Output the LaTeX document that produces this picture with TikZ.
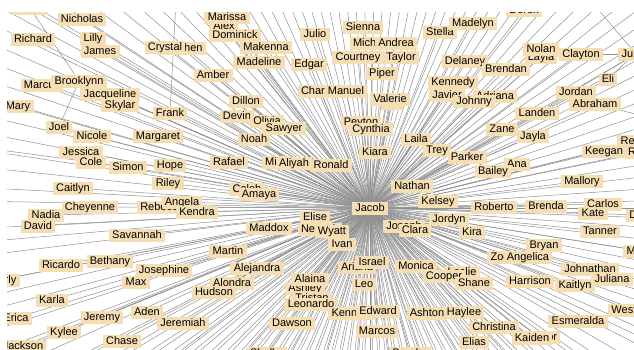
\documentclass[tikz,border=0pt]{standalone}
\usepackage{fontspec}
\setmainfont{Liberation Sans}
\pgfdeclarelayer{edges}
\pgfdeclarelayer{paper}
\pgfsetlayers{paper,edges,main}
\definecolor{lab}{RGB}{245,222,179}
\definecolor{edgec}{RGB}{145,145,145}
\tikzset{
  nm/.style={fill=lab, inner xsep=3.3pt, inner ysep=1pt, text height=8.6pt, text depth=2.4pt, font=\fontsize{11}{13}\selectfont},
  ed/.style={draw=edgec, line width=0.5pt}
}
\begin{document}
\begin{tikzpicture}[x=1pt,y=-1pt]
\begin{pgfonlayer}{paper}
\fill[white] (0,0) rectangle (634,349);
\end{pgfonlayer}
\useasboundingbox (0,0) rectangle (634,349);
\begin{scope}
\clip (7,12) rectangle (634,349);
\foreach \n/\x/\y/\t in {
 diana/30/8/Diana, nicholas/82/19/Nicholas, richard/33/39/Richard, lilly/93/38/Lilly, james/100/51/James,
 stephen/182/48/Stephen, crystal/165/47/Crystal, alex/224/26/Alex, marissa/227/17/Marissa, dominick/235/35/Dominick,
 makenna/266/47/Makenna, madeline/259/62/Madeline, amber/213/75/Amber, dillon/246/101/Dillon, frank/170/113/Frank,
 julio/315/34/Julio, edgar/309/64/Edgar, charles/320/91/Charles, manuel/346/91/Manuel, sienna/363/27/Sienna,
 michael/372/43/Michael, andrea/396/43/Andrea, courtney/358/57/Courtney, taylor/401/57/Taylor, piper/382/73/Piper,
 ian/392/103/Ian, valerie/390/99/Valerie, stella/440/32/Stella, madelyn/473/23/Madelyn, derek/524/10/Derek, layla/541/57/Layla,
 nolan/541/49/Nolan, clayton/581/54/Clayton, julian/636/54/Julian, delaney/465/61/Delaney, brendan/506/69/Brendan,
 kennedy/453/82/Kennedy, javier/447/95/Javier, adriana/495/96/Adriana, johnny/474/101/Johnny, eli/608/79/Eli,
 jordan/576/92/Jordan, abraham/595/104/Abraham, landen/537/113/Landen, joel/59/127/Joel, nicole/92/136/Nicole,
 margaret/158/136/Margaret, jessica/81/152/Jessica, cole/91/162/Cole, simon/128/167/Simon, hope/170/165/Hope,
 riley/168/183/Riley, caitlyn/73/188/Caitlyn, cheyenne/90/207/Cheyenne, rebecca/162/207/Rebecca, angela/182/202/Angela,
 kendra/197/212/Kendra, nadia/46/215/Nadia, david/38/226/David, savannah/137/235/Savannah, marcus/42/85/Marcus,
 brooklynn/79/81/Brooklynn, jacqueline/110/94/Jacqueline, skylar/120/105/Skylar, mary/18/106/Mary,
 devin/237/116/Devin, olivia/267/121/Olivia, sawyer/284/128/Sawyer, noah/254/139/Noah, rafael/229/162/Rafael,
 mia/274/162/Mia, aliyah/294/163/Aliyah, ronald/331/165/Ronald, caleb/247/189/Caleb, amaya/259/194/Amaya,
 elise/315/217/Elise, maddox/269/228/Maddox, nevaeh/320/229/Nevaeh, wyatt/332/231/Wyatt, peyton/361/122/Peyton,
 cynthia/371/129/Cynthia, kiara/375/152/Kiara, laila/416/139/Laila, trey/437/150/Trey, parker/467/157/Parker,
 nathan/412/186/Nathan, kelsey/438/201/Kelsey, jordyn/449/219/Jordyn, joseph/404/226/Joseph, clara/415/230/Clara,
 kira/472/232/Kira, zane/502/129/Zane, jayla/533/136/Jayla, reagan/640/141/Reagan, ryan/641/152/Ryan,
 keegan/604/151/Keegan, ana/517/164/Ana, bailey/493/171/Bailey, mallory/582/181/Mallory, roberto/494/207/Roberto,
 brenda/546/206/Brenda, carlos/603/204/Carlos, kate/593/213/Kate, daniel/645/215/Daniel, tanner/600/231/Tanner,
 ricardo/61/265/Ricardo, bethany/110/261/Bethany, josephine/164/270/Josephine, beverly/-2/280/Beverly, max/136/282/Max,
 karla/52/300/Karla, erica/16/318/Erica, jeremy/102/317/Jeremy, aden/147/312/Aden, kylee/64/332/Kylee,
 jackson/23/346/Jackson, chase/122/341/Chase, martin/228/251/Martin, alejandra/257/268/Alejandra, alondra/232/283/Alondra,
 hudson/214/292/Hudson, jeremiah/183/323/Jeremiah, ashley/305/288/Ashley, tristan/312/298/Tristan, alaina/310/279/Alaina,
 leonardo/311/304/Leonardo, dawson/292/323/Dawson, shelby/267/353/Shelby, ivan/342/244/Ivan, ariana/357/267/Ariana,
 israel/372/262/Israel, monica/416/266/Monica, leslie/462/272/Leslie, cooper/444/276/Cooper, shane/474/283/Shane, leo/364/284/Leo,
 kenneth/352/313/Kenneth, edward/378/311/Edward, marcos/377/331/Marcos, ashton/427/313/Ashton, haylee/464/312/Haylee,
 elias/474/342/Elias, brooke/410/353/Brooke, bryan/544/245/Bryan, zoe/500/257/Zoe, angelica/528/257/Angelica,
 mason/643/251/Mason, johnathan/590/269/Johnathan, harrison/530/281/Harrison, kaitlyn/575/285/Kaitlyn,
 juliana/612/279/Juliana, weston/630/310/Weston, esmeralda/578/321/Esmeralda, christina/494/327/Christina,
 connor/539/337/Connor, kaiden/532/338/Kaiden, jacob/370/208/Jacob}
 {\node[nm] (\n) at (\x,\y) {\t};}
\begin{pgfonlayer}{edges}
\clip (7,12) rectangle (634,349);
\foreach \n in {diana,nicholas,richard,lilly,james,stephen,crystal,marissa,alex,dominick,makenna,madeline,amber,dillon,frank,
 julio,edgar,charles,manuel,sienna,michael,andrea,courtney,taylor,piper,ian,valerie,stella,madelyn,derek,layla,nolan,clayton,
 julian,delaney,brendan,kennedy,javier,adriana,johnny,eli,jordan,abraham,landen,joel,nicole,margaret,jessica,cole,simon,
 hope,riley,caitlyn,cheyenne,rebecca,angela,kendra,nadia,david,savannah,marcus,brooklynn,jacqueline,skylar,mary,devin,
 olivia,sawyer,noah,rafael,mia,aliyah,ronald,caleb,amaya,elise,maddox,nevaeh,wyatt,peyton,cynthia,kiara,laila,trey,parker,
 nathan,kelsey,jordyn,joseph,clara,kira,zane,jayla,reagan,ryan,keegan,ana,bailey,mallory,roberto,brenda,carlos,kate,daniel,
 tanner,ricardo,bethany,josephine,beverly,max,karla,erica,jeremy,aden,kylee,jackson,chase,martin,alejandra,alondra,hudson,
 jeremiah,ashley,tristan,alaina,leonardo,dawson,shelby,ivan,ariana,israel,monica,leslie,cooper,shane,leo,kenneth,edward,marcos,
 ashton,haylee,elias,brooke,bryan,zoe,angelica,mason,johnathan,harrison,kaitlyn,juliana,weston,esmeralda,christina,connor,kaiden}
 {\draw[ed] (jacob.center) -- (\n.center);}
\foreach \a [count=\i] in {0,4,9,13,17,21,24,27,30,33,36,39,42,45,48,51,54,57,60,63,66,69,72,75,78,81,84,87,90,93,96,99,102,105,
 108,111,114,117,120,123,126,129,132,135,138,141,144,147,150,153,156,159,162,165,169,173,177,181,186,191,196,201,206,211,216,
 221,226,231,236,241,246,251,256,261,266,271,276,281,286,291,296,301,306,311,316,321,326,331,336,341,346,351,356,
 25.5,37.5,46.5,58.5,70.5,82.5,94.5,106.5,118.5,130.5,142.5,152.5,
 2,6.5,11,15,19,35,41,44,47,50,53,56,59,62,65,68,71,74,77,80,83,86,89,92,95,98,101,104,107,110,113,116,119,122,
 125,128,131,134,137,140,143,146,149,158,167,175,183,188.5,193.5,198.5,203.5,208.5,213.5,218.5,223.5,228.5,233.5,238.5,
 243.5,248.5,253.5,258.5,263.5,268.5,273.5,278.5,283.5,288.5,293.5,298.5,303.5,308.5,313.5,318.5,323.5,328.5,333.5,
 338.5,343.5,348.5,353.5,358.5}
 {\draw[ed] (jacob.center) -- ++(\a:700) coordinate (far\i);}
\coordinate (topf) at (176,0);
\coordinate (toptr) at (590,0);
\coordinate (rtr) at (660,30);
\coordinate (rtb) at (660,120);
\coordinate (lft) at (0,150);
\draw[ed] (topf) -- (frank);
\draw[ed] (diana) -- (brooklynn);
\draw[ed] (toptr) -- (julian);
\draw[ed] (clayton) -- (julian);
\draw[ed] (julian) -- (landen);
\draw[ed] (rtr) -- (eli);
\draw[ed] (rtb) -- (abraham);
\draw[ed] (brooklynn) -- (joel);
\draw[ed] (lft) -- (simon);
\end{pgfonlayer}
\end{scope}
\end{tikzpicture}
\end{document}
